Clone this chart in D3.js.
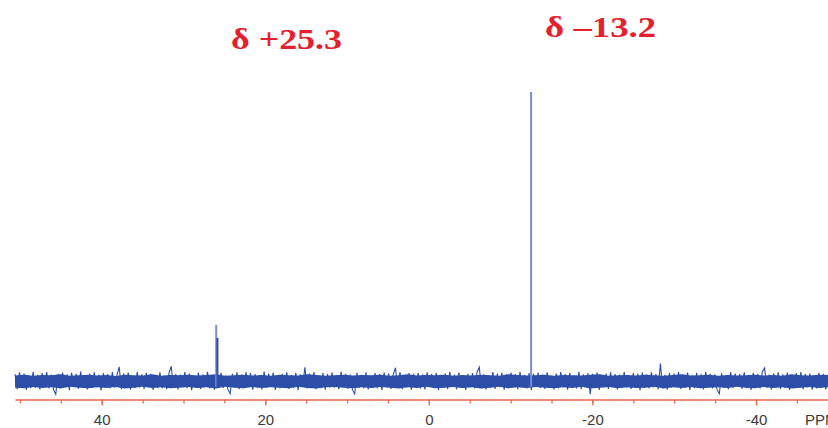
<!DOCTYPE html>
<html>
<head>
<meta charset="utf-8">
<script src="https://cdn.jsdelivr.net/npm/d3@7"></script>
<style>
  html, body { margin: 0; padding: 0; background: #fff; overflow: hidden; }
  #chart svg { display: block; }
</style>
</head>
<body>
<div id="chart"></div>
<script>
const WIDTH = 828;
const HEIGHT = 428;

// spectrum window (ppm), left to right
const PPM_START = 50.6;
const PPM_END = -48.8;

// baseline noise left to right (units: % of tallest peak)
const noise = [
  2.4,-2.8,3.0,-2.1,2.6,-3.1,1.9,-2.5,3.2,-2.3,2.1,-2.9,2.7,-1.8,3.1,-2.6,2.2,-3.0,-4.6,2.5,
  -2.4,2.9,-2.0,2.3,-3.2,2.8,-1.9,2.5,-2.7,3.3,-2.2,1.8,-2.9,2.6,-2.4,3.0,-2.1,2.2,-3.3,2.7,
  -1.8,2.4,-2.6,3.1,-2.3,2.0,4.9,-2.8,2.6,-2.1,2.9,-3.0,1.7,-2.5,3.2,-2.2,2.3,-2.7,2.8,-1.9,
  2.5,-3.1,2.1,-2.4,3.0,-2.6,1.9,-2.8,2.7,5.1,-2.3,2.4,-2.9,2.2,-2.0,3.1,-2.5,2.6,-3.2,1.8,
  -2.3,2.9,-2.7,2.3,-1.9,3.2,-2.6,2.0,-3.0,2.6,-2.2,2.8,-2.4,1.9,-2.9,-4.4,2.5,-2.1,3.0,-2.8,
  2.2,-2.5,3.1,-1.8,2.7,-3.0,2.4,-2.2,2.0,-2.9,3.3,-2.4,2.6,-2.0,2.9,-3.1,1.8,-2.6,2.5,-2.3,
  3.0,-2.7,2.1,-2.4,2.8,-3.2,2.3,-1.9,4.7,-2.6,2.6,-2.1,3.1,-2.8,1.9,-2.5,2.7,-3.0,2.4,-2.2,
  2.9,-2.3,2.0,-2.8,3.2,-2.1,2.5,-2.7,2.2,-3.0,-4.5,2.8,-2.4,2.1,-2.6,3.0,-2.9,1.8,-2.3,2.7,
  -2.5,2.4,-3.1,2.9,-2.0,2.6,-2.7,2.2,4.6,-2.4,3.1,-2.8,1.9,-2.2,2.7,-3.0,2.5,-2.1,2.8,-2.6,
  2.3,-2.9,3.0,-1.8,2.4,-2.5,2.8,-3.2,2.1,-2.3,2.6,-2.7,3.2,-2.0,2.2,-2.8,2.9,-2.4,1.9,-3.1,
  2.5,-2.2,2.7,-2.6,3.0,4.8,-2.5,2.3,-2.9,2.0,-2.4,3.1,-2.7,2.6,-2.1,2.8,-3.0,2.2,-2.5,2.9,
  -1.9,2.4,-2.8,3.2,-2.3,2.1,-2.6,2.7,-3.1,2.5,-2.0,2.9,-2.4,2.2,-2.7,3.0,-2.2,1.8,-2.9,2.6,
  -2.5,3.1,-2.1,2.4,-3.0,2.8,-2.3,2.0,-2.6,3.2,-2.8,2.3,-1.9,2.7,-4.6,2.5,-2.4,2.9,-3.1,2.1,
  -2.2,2.6,-2.7,3.0,-2.0,2.4,-2.9,2.2,-2.5,3.1,-2.3,1.9,-2.8,2.7,-2.1,2.5,-3.2,2.9,-2.4,2.2,
  -2.6,3.0,-2.2,2.4,-2.8,6.0,-2.5,2.1,-3.0,2.7,-2.3,2.6,-2.0,3.1,-2.7,2.2,-2.4,2.9,-3.1,2.0,
  -2.5,2.8,-2.2,2.4,-2.9,3.2,-2.1,2.5,-2.6,2.3,-3.0,-4.4,2.7,-2.4,2.0,-2.8,3.1,-2.3,2.6,-1.9,
  2.4,-2.7,3.0,-2.5,2.1,-3.1,2.8,-2.2,2.5,-2.6,3.2,4.5,-2.4,2.2,-2.9,2.6,-2.0,3.0,-2.7,2.3,
  -2.4,2.9,-3.1,2.2,-2.5,2.7,-2.1,3.1,-2.8,2.4,-2.2,2.6,-3.0,2.0,-2.6,2.8,-2.3,2.5,-2.9,2.2
];

// solid core of the noise band (where the trace overlaps itself)
const coreTop = [
  1.9,2.2,1.8,2.1,2.0,2.3,1.8,2.0,2.2,1.9,2.1,1.7,2.2,2.0,1.9,2.3,1.8,2.1,2.0,2.2,
  1.9,2.1,2.3,1.8,2.0,2.2,1.9,2.1,1.8,2.2,2.0,1.9,2.3,2.1,1.8,2.0,2.2,1.9,2.1,2.0,
  2.2,1.8,2.0,2.3,1.9,2.1,2.0,2.2,1.8,2.1,1.9,2.2,2.0,1.8,2.3,2.1,1.9,2.0,2.2,1.8,
  2.1,2.0,1.9,2.2,2.3,1.8,2.0,2.1,1.9,2.2,2.0,1.8,2.1,2.3,1.9,2.0,2.2,1.8,2.1,1.9,
  2.0,2.2,1.9,2.1,1.8,2.3,2.0,1.9,2.2,2.1
];
const coreBottom = [
  -2.3,-2.5,-2.1,-2.4,-2.2,-2.6,-2.0,-2.3,-2.5,-2.2,-2.4,-2.1,-2.6,-2.3,-2.0,-2.4,-2.2,-2.5,-2.3,-2.1,
  -2.4,-2.2,-2.6,-2.0,-2.3,-2.5,-2.1,-2.4,-2.2,-2.3,-2.5,-2.0,-2.4,-2.6,-2.2,-2.1,-2.3,-2.5,-2.2,-2.4,
  -2.1,-2.3,-2.6,-2.2,-2.4,-2.0,-2.5,-2.3,-2.1,-2.4,-2.2,-2.6,-2.3,-2.0,-2.5,-2.2,-2.4,-2.1,-2.3,-2.5,
  -2.2,-2.4,-2.0,-2.6,-2.3,-2.1,-2.5,-2.2,-2.4,-2.3,-2.0,-2.6,-2.2,-2.4,-2.1,-2.5,-2.3,-2.2,-2.4,-2.0,
  -2.3,-2.5,-2.1,-2.4,-2.2,-2.6,-2.3,-2.1,-2.4,-2.2
];

// signals: position (ppm) and height (% of tallest)
const peakPpm = [26.0, 25.85, -12.5];
const peakHeight = [19.4, 14.9, 100];
const peakColor = ["#7f8ad9", "#2d4ea8", "#7f8ad9"];

// labelled shifts
const shiftLabels = ["δ +25.3", "δ –13.2"];
const shiftLabelPpm = [17.4, -21.0];
const shiftLabelY = [49, 37];

// axis ticks
const majorTicks = [40, 20, 0, -20, -40];
const minorTicks = d3.range(50, -50, -5);
const axisUnit = "PPM";

const COLOR_TRACE = "#2d4ea8";

function createChart() {
    d3.select("#chart").selectAll("*").remove();

    const svg = d3.select("#chart")
        .append("svg")
        .attr("width", WIDTH)
        .attr("height", HEIGHT)
        .attr("viewBox", `0 0 ${WIDTH} ${HEIGHT}`);

    // X scale (ppm runs right to left)
    const x = d3.scaleLinear()
        .domain([PPM_START, PPM_END])
        .range([15, WIDTH]);

    // Y scale
    const y = d3.scaleLinear()
        .domain([0, 100])
        .range([381, 92]);

    // --- Noise band core ---
    const coreStep = (PPM_END - PPM_START) / (coreTop.length - 1);
    const core = coreTop.map((v, i) => ({ ppm: PPM_START + i * coreStep, hi: v, lo: coreBottom[i] }));

    svg.append("path")
        .datum(core)
        .attr("fill", COLOR_TRACE)
        .attr("d", d3.area()
            .x(d => x(d.ppm))
            .y0(d => y(d.lo))
            .y1(d => y(d.hi)));

    // --- Noise trace ---
    const step = (PPM_END - PPM_START) / (noise.length - 1);
    const trace = noise.map((v, i) => ({ ppm: PPM_START + i * step, v: v }));

    svg.append("path")
        .datum(trace)
        .attr("fill", "none")
        .attr("stroke", COLOR_TRACE)
        .attr("stroke-width", 1.1)
        .attr("d", d3.line().x(d => x(d.ppm)).y(d => y(d.v)));

    // --- Peaks ---
    svg.selectAll(".peak")
        .data(peakPpm.map((p, i) => ({ ppm: p, h: peakHeight[i], c: peakColor[i] })))
        .join("line")
        .attr("class", "peak")
        .attr("x1", d => x(d.ppm))
        .attr("x2", d => x(d.ppm))
        .attr("y1", y(-2))
        .attr("y2", d => y(d.h))
        .attr("stroke", d => d.c)
        .attr("stroke-width", 2);

    // --- Axis ---
    const axisY = 399.5;
    const axisColor = "#ea6a4e";

    svg.append("g")
        .attr("transform", `translate(0,${axisY})`)
        .call(d3.axisBottom(x).tickValues(minorTicks).tickSize(4).tickSizeOuter(0).tickFormat(""));

    const majorAxis = svg.append("g")
        .attr("transform", `translate(0,${axisY})`)
        .call(d3.axisBottom(x).tickValues(majorTicks).tickSize(6).tickSizeOuter(0).tickPadding(9)
            .tickFormat(d => d < 0 ? "-" + Math.abs(d) : d));

    svg.selectAll(".domain").attr("stroke", axisColor).attr("stroke-width", 1.3);
    svg.selectAll(".tick line").attr("stroke", axisColor).attr("stroke-width", 1.3);
    majorAxis.select(".domain").remove();
    majorAxis.selectAll("text")
        .attr("fill", "#3a3a3a")
        .style("font-family", "'Liberation Sans', Arial, sans-serif")
        .style("font-size", "15px");

    svg.append("text")
        .attr("x", 805)
        .attr("y", 425)
        .attr("fill", "#3a3a3a")
        .style("font-family", "'Liberation Sans', Arial, sans-serif")
        .style("font-size", "15px")
        .text(axisUnit);

    // --- Shift labels ---
    svg.selectAll(".shift")
        .data(shiftLabels)
        .join("text")
        .attr("class", "shift")
        .attr("x", (d, i) => x(shiftLabelPpm[i]))
        .attr("y", (d, i) => shiftLabelY[i])
        .attr("text-anchor", "middle")
        .attr("textLength", 111)
        .attr("lengthAdjust", "spacingAndGlyphs")
        .attr("fill", "#e5202e")
        .style("font-family", "'Liberation Serif', 'Times New Roman', serif")
        .style("font-weight", "bold")
        .style("font-size", "30px")
        .text(d => d);
}

createChart();
</script>
</body>
</html>
